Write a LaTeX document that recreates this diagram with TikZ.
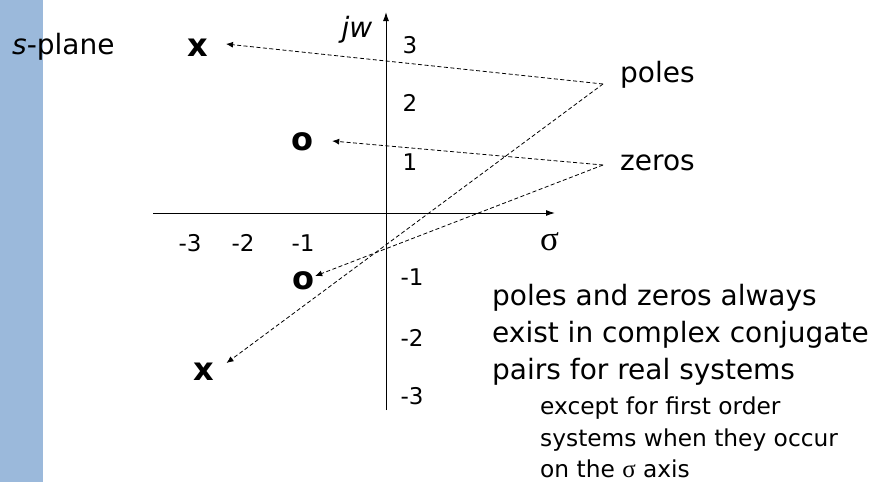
\documentclass[tikz,border=0pt]{standalone}
\usepackage{fontspec}
\setmainfont{DejaVu Sans}
\newfontfamily\greekfont{Liberation Serif}
\usetikzlibrary{arrows.meta}
\definecolor{barblue}{RGB}{155,185,219}
\tikzset{
  lbl/.style  ={font=\fontsize{28}{34}\selectfont, inner sep=0pt},
  tck/.style  ={font=\fontsize{23}{28}\selectfont, inner sep=0pt},
  pz/.style   ={font=\fontsize{32}{38}\selectfont\bfseries, inner sep=0pt},
  note/.style ={font=\fontsize{28}{37}\selectfont, align=left, inner sep=0pt, anchor=north west},
  snote/.style={font=\fontsize{23.3}{31.5}\selectfont, align=left, inner sep=0pt, anchor=north west},
  ax/.style   ={-{Latex[length=9pt,width=6pt]}, line width=1pt},
  dar/.style  ={-{Latex[length=7pt,width=6pt]}, dash pattern=on 4pt off 2.5pt, line width=0.8pt},
}
\begin{document}
\begin{tikzpicture}[x=1pt,y=-1pt]
\useasboundingbox (0,0) rectangle (873,482);
\fill[barblue] (0,0) rectangle (43,482);
% axes
\coordinate (xl) at (153,213); \coordinate (xr) at (555,213);
\coordinate (yb) at (386,410); \coordinate (yt) at (386,12);
\draw[ax] (xl) -- (xr);
\draw[ax] (yb) -- (yt);
\node[lbl,anchor=west] (splane) at (12,47) {\textit{s}-plane};
\node[lbl] (jw) at (357,30) {\textit{jw}};
\node[lbl] (sig) at (549.5,242) {\fontsize{35}{40}\greekfont σ};
% tick labels
\node[tck] (t3) at (410,45) {3};
\node[tck] (t2) at (410,103) {2};
\node[tck] (t1) at (410,162) {1};
\node[tck] (tm1) at (412,277) {-1};
\node[tck] (tm2) at (412,338) {-2};
\node[tck] (tm3) at (412,396) {-3};
\node[tck] (sm3) at (190,243) {-3};
\node[tck] (sm2) at (243,243) {-2};
\node[tck] (sm1) at (303,243) {-1};
% poles and zeros
\node[pz] (xtop) at (197.5,47.5) {x};
\node[pz] (otop) at (302,142) {o};
\node[pz] (obot) at (303,281) {o};
\node[pz] (xbot) at (204,372) {x};
\node[lbl,anchor=west] (poles) at (620,75) {poles};
\node[lbl,anchor=west] (zeros) at (620,163) {zeros};
\coordinate (pP) at (603,84);
\coordinate (pZ) at (603,165);
\draw[dar] (pP) -- ([xshift=18pt,yshift=3.5pt]xtop.east);
\draw[dar] (pP) -- ([xshift=12pt,yshift=9pt]xbot.east);
\draw[dar] (pZ) -- ([xshift=19pt,yshift=1pt]otop.east);
\draw[dar] (pZ) -- ([xshift=1pt,yshift=5pt]obot.east);
% remarks
\node[note] (rem) at (492,284) {poles and zeros always\\exist in complex conjugate\\pairs for real systems};
\node[snote] (srem) at (540,397) {except for first order\\systems when they occur\\on the {\fontsize{25}{31.5}\greekfont σ} axis};
\end{tikzpicture}
\end{document}
